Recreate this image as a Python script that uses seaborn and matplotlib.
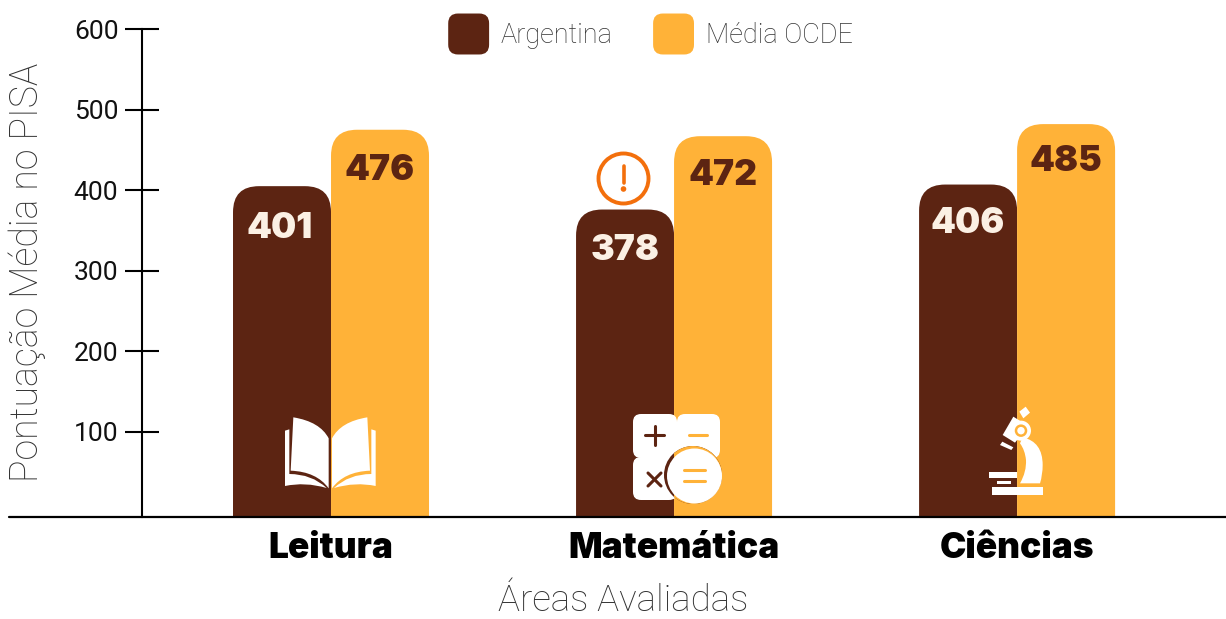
import matplotlib
matplotlib.use("Agg")
import matplotlib.pyplot as plt
import pandas as pd
import seaborn as sns
from matplotlib.legend_handler import HandlerPatch
from matplotlib.lines import Line2D
from matplotlib.patches import Circle, FancyBboxPatch, Patch, PathPatch, Rectangle
from matplotlib.path import Path
from matplotlib.transforms import Affine2D, IdentityTransform

areas = ["Leitura", "Matemática", "Ciências"]
countries = ["Argentina", "Média OCDE"]
argentina_heights = [405, 376, 407]
ocde_heights = [475, 467, 482]
argentina_labels = ["401", "378", "406"]
ocde_labels = ["476", "472", "485"]
y_ticks = [100, 200, 300, 400, 500, 600]

BROWN = "#5C2412"
AMBER = "#FFB238"
CREAM = "#FBF0E4"
ORANGE = "#F36F0C"
HEAVY = "Inter"
LIGHT = "Roboto"
W, H = 1226, 619

sns.set_theme(style="white")
plt.rcParams["font.family"] = [LIGHT, "DejaVu Sans"]

df = pd.DataFrame({
    "area": areas * 2,
    "pais": [countries[0]] * 3 + [countries[1]] * 3,
    "nota": argentina_heights + ocde_heights,
})

fig = plt.figure(figsize=(W / 100, H / 100), dpi=100, facecolor="white")
ax = fig.add_axes([142 / W, 1 - 517 / H, (W - 142) / W, (517 - 29) / H])
sns.barplot(data=df, x="area", y="nota", hue="pais", order=areas, hue_order=countries,
            palette=[BROWN, AMBER], saturation=1, width=0.5714, gap=0, legend=False, ax=ax, errorbar=None)
ax.set_xlim(-0.551, 2.609)
ax.set_ylim(-5.5, 600)

px = Affine2D().scale(1, -1).translate(0, H)

# rounded bars built from the geometry of the seaborn bars
fig.canvas.draw()
bars = [p for p in ax.patches if isinstance(p, Rectangle) and p.get_width() > 0 and p.get_height() > 0]
for bar in list(bars):
    x0, y1 = ax.transData.transform((bar.get_x(), bar.get_height()))
    x1, _ = ax.transData.transform((bar.get_x() + bar.get_width(), 0))
    y0 = ax.transAxes.transform((0, 0))[1] - 40
    fb = FancyBboxPatch((x0, y0), x1 - x0, y1 - y0, boxstyle="round,pad=0,rounding_size=26",
                        fc=bar.get_facecolor(), ec="none", transform=IdentityTransform(), zorder=2)
    ax.add_artist(fb)
    fb.set_clip_path(ax.patch)
    bar.set_visible(False)

# value labels
drop_arg = [49, 47, 44]
drop_oc = [50, 49, 46]
shift_arg = [-0.006, 0, 0]
offset = 0.1428
for i in range(3):
    ax.text(i - offset + shift_arg[i], argentina_heights[i] - 4 - drop_arg[i], argentina_labels[i], color=CREAM,
            ha="center", va="center", family=HEAVY, weight="black", fontsize=25.5, zorder=5)
    ax.text(i + offset, ocde_heights[i] - drop_oc[i], ocde_labels[i], color=BROWN, ha="center", va="center",
            family=HEAVY, weight="black", fontsize=25.5, zorder=5)

# axes
sns.despine(ax=ax, top=True, right=True, bottom=True)
ax.spines["left"].set_linewidth(1.5)
ax.spines["left"].set_color("black")
ax.set_yticks(y_ticks)
ax.tick_params(axis="y", direction="inout", length=24, width=1.5, color="black", labelsize=19,
               labelcolor="#111111", pad=5, left=True)
ax.tick_params(axis="x", length=0, pad=11)
for t in ax.get_xticklabels():
    t.set_family(HEAVY)
    t.set_weight("black")
    t.set_fontsize(25.4)
    t.set_color("black")
ax.set_xlabel("")
ax.set_ylabel("")
fig.add_artist(Line2D([9, W], [517, 517], transform=px, color="black", lw=1.6, zorder=6))
fig.text(623 / W, 1 - 611 / H, "Áreas Avaliadas", ha="center", va="baseline", fontsize=26.5,
         color="#333333", family=LIGHT, weight="light")
fig.text(27 / W, 1 - 272 / H, "Pontuação Média no PISA", ha="center", va="center", rotation=90,
         fontsize=27, color="#333333", family=LIGHT, weight="light")


class RoundHandler(HandlerPatch):
    def create_artists(self, legend, orig, xd, yd, width, height, fontsize, trans):
        side = 29.5
        p = FancyBboxPatch((-xd, -yd + height / 2 - side / 2), width, side,
                           boxstyle="round,pad=0,rounding_size=7",
                           fc=orig.get_facecolor(), ec="none", transform=trans)
        return [p]


handles = [Patch(color=BROWN, label=countries[0]), Patch(color=AMBER, label=countries[1])]
leg = fig.legend(handles=handles, loc="center", bbox_to_anchor=(650.5 / W, 1 - 34 / H), ncol=2, frameon=False,
                 handlelength=1.51, handleheight=1.5, handletextpad=0.44, columnspacing=1.48,
                 handler_map={Patch: RoundHandler()}, labelcolor="#333333",
                 prop={"family": LIGHT, "weight": "light", "size": 19.5})


# icons, traced in picture pixels
def icon(points, codes, fc, z=7):
    path = Path(points, codes)
    fig.add_artist(PathPatch(path, fc=fc, ec="none", transform=px, zorder=z))


M, L, C3, Z = Path.MOVETO, Path.LINETO, Path.CURVE3, Path.CLOSEPOLY
ox, oy = 230, 400


def z1(x, y):
    return (ox + x / 3, oy + y / 3)


def mirror(x):
    return 602 - x


for flip in (False, True):
    fx = mirror if flip else (lambda v: v)
    icon([z1(fx(190), 52), z1(fx(270), 65), z1(fx(296), 115), z1(fx(296), 265), z1(fx(260), 215), z1(fx(182), 212),
          z1(fx(190), 52), z1(fx(190), 52)],
         [M, C3, C3, L, C3, C3, L, Z], "white")
    icon([z1(fx(165), 92), z1(fx(178), 88), z1(fx(178), 222), z1(fx(245), 222), z1(fx(290), 264), z1(fx(225), 245),
          z1(fx(165), 258), z1(fx(165), 92)],
         [M, L, L, C3, C3, C3, C3, Z], "white")


# calculator
def rbox(x, y, w, h, r, fc, z=7):
    fig.add_artist(FancyBboxPatch((x, y), w, h, boxstyle=f"round,pad=0,rounding_size={r}", fc=fc, ec="none",
                                  transform=px, zorder=z))


rbox(633, 414, 44, 44, 8, "white")
rbox(677, 414, 43, 44, 8, "white")
rbox(633, 457, 44, 43, 8, "white")
fig.add_artist(Circle((693, 475), 29, fc=BROWN, ec="none", transform=px, zorder=7.1))
fig.add_artist(Rectangle((674, 440), 60, 70, fc=AMBER, ec="none", transform=px, zorder=7.11,
                         clip_path=Circle((693, 475), 29, transform=px)))
fig.add_artist(Circle((694.5, 476), 27.5, fc="white", ec="none", transform=px, zorder=7.2))
for xs, ys, col, z in [
    ([645, 664], [435, 435], BROWN, 7.3), ([654.5, 654.5], [425.5, 445], BROWN, 7.3),
    ([689, 707], [435, 435], AMBER, 7.3), ([684, 705], [470, 470], AMBER, 7.3), ([684, 705], [481, 481], AMBER, 7.3),
    ([648, 661], [473, 486], BROWN, 7.3), ([648, 661], [486, 473], BROWN, 7.3),
]:
    fig.add_artist(Line2D(xs, ys, color=col, lw=2.2, transform=px, zorder=z, solid_capstyle="round"))


# microscope
def z4(x, y):
    return (960 + x / 3, 400 + y / 3)


icon([z4(88, 215), z4(172, 215), z4(172, 235), z4(88, 235), z4(88, 215)], [M, L, L, L, Z], "white")
icon([z4(110, 242), z4(152, 242), z4(152, 251), z4(110, 251), z4(110, 242)], [M, L, L, L, Z], "white")
icon([z4(96, 260), z4(250, 260), z4(250, 285), z4(96, 285), z4(96, 260)], [M, L, L, L, Z], "white")
icon([z4(178, 35), z4(197, 20), z4(210, 38), z4(190, 55), z4(178, 35)], [M, L, L, L, Z], "white")
icon([z4(160, 50), z4(205, 78), z4(165, 128), z4(128, 105), z4(160, 50)], [M, L, L, L, Z], "white")
icon([z4(127, 125), z4(160, 142), z4(154, 150), z4(120, 135), z4(127, 125)], [M, L, L, L, Z], "white")
icon([z4(188, 112), z4(248, 125), z4(248, 195), z4(248, 225), z4(240, 250), z4(180, 250), z4(200, 215), z4(198, 180),
      z4(195, 150), z4(180, 130), z4(188, 112)],
     [M, C3, C3, C3, C3, L, C3, C3, C3, C3, Z], "white")
fig.add_artist(Circle(z4(183, 92), 10, fc="white", ec="none", transform=px, zorder=7))
fig.add_artist(Circle(z4(183, 92), 5, fc="none", ec=AMBER, lw=1.8, transform=px, zorder=7.1))

# warning icon
fig.add_artist(Circle((623.5, 178.5), 25, fc="white", ec=ORANGE, lw=2.8, transform=px, zorder=7))
fig.add_artist(Line2D([623.5, 623.5], [166, 183], color=ORANGE, lw=2.6, transform=px, zorder=8, solid_capstyle="round"))
fig.add_artist(Circle((623.5, 189), 2.8, fc=ORANGE, ec="none", transform=px, zorder=8))

fig.savefig("out.png", dpi=100, facecolor="white")
